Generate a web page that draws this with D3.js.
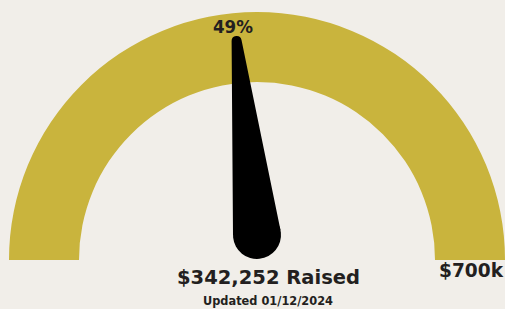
<!DOCTYPE html>
<html><head><meta charset="utf-8">
<script src="https://cdn.jsdelivr.net/npm/d3@7"></script>
<style>
html,body{margin:0;padding:0;background:#f1eee9;}
svg{display:block;}
text{font-family:"DejaVu Sans",sans-serif;font-weight:700;fill:#231f20;}
</style></head>
<body>
<svg id="chart" width="505" height="309"></svg>
<script>
const raised = 342252;
const goal = 700000;
const percentLabel = "49%";
const raisedLabel = "$342,252 Raised";
const updatedLabel = "Updated 01/12/2024";
const goalLabel = "$700k";

const W = 505, H = 309;
const cx = 257, cy = 260;
const outerR = 248, innerR = 178;
const svg = d3.select("#chart");
svg.append("rect").attr("width", W).attr("height", H).attr("fill", "#f1eee9");

const angle = d3.scaleLinear().domain([0, goal]).range([-Math.PI / 2, Math.PI / 2]);

const g = svg.append("g").attr("transform", `translate(${cx},${cy})`);
g.append("path")
  .attr("d", d3.arc().innerRadius(innerR).outerRadius(outerR)
    .startAngle(angle(0)).endAngle(angle(goal))())
  .attr("fill", "#c9b43d");

// needle
const pivotY = 235 - cy;
const needleLen = 195, baseR = 24, tipR = 5;
const a = angle(raised) - 0.07;
const ng = g.append("g").attr("transform", `translate(0,${pivotY}) rotate(${a * 180 / Math.PI})`);
const sinT = (baseR - tipR) / needleLen;
const cosT = Math.sqrt(1 - sinT * sinT);
const p = d3.path();
p.moveTo(-baseR * cosT, -baseR * sinT);
p.lineTo(-tipR * cosT, -needleLen - tipR * sinT);
p.arc(0, -needleLen, tipR, Math.PI + Math.asin(sinT), 2 * Math.PI - Math.asin(sinT));
p.lineTo(baseR * cosT, -baseR * sinT);
p.closePath();
ng.append("path").attr("d", p.toString()).attr("fill", "#000");
ng.append("circle").attr("r", baseR).attr("fill", "#000");

function label(txt, x, y, size, width) {
  svg.append("text").attr("x", x).attr("y", y).attr("text-anchor", "middle")
    .attr("font-size", size).attr("textLength", width).attr("lengthAdjust", "spacingAndGlyphs")
    .text(txt);
}
label(percentLabel, 233, 33, 17, 40);
label(raisedLabel, 268.5, 284, 19.5, 183);
label(updatedLabel, 268, 305, 11.5, 130);
label(goalLabel, 471, 277, 19.5, 64);
</script>
</body></html>
